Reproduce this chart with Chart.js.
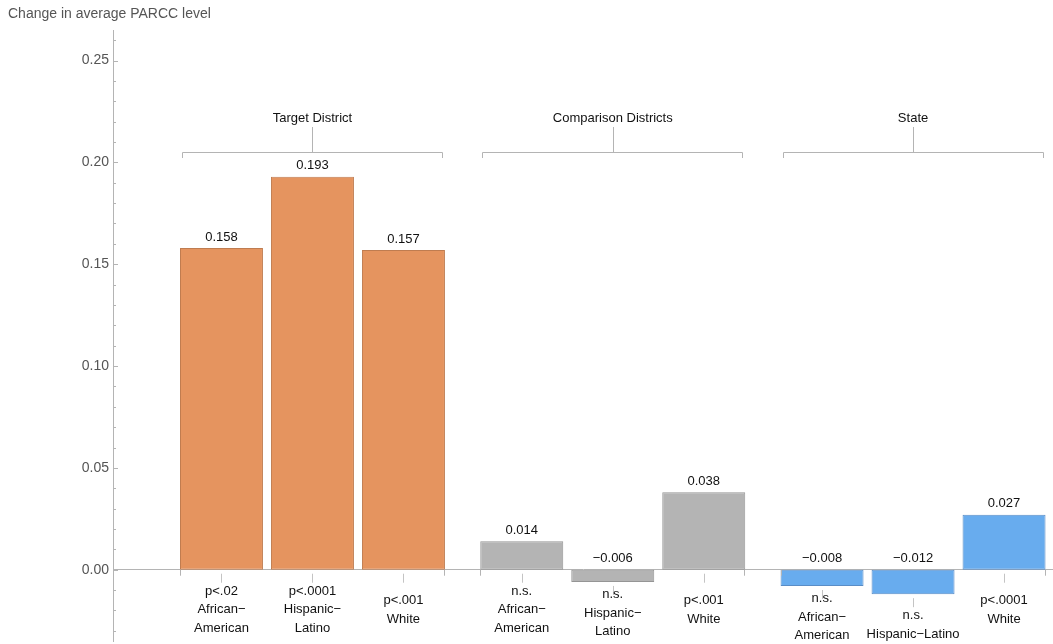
<!DOCTYPE html>
<html><head><meta charset="utf-8">
<script src="https://cdn.jsdelivr.net/npm/chart.js@4"></script>
<style>html,body{margin:0;padding:0;background:#fff;}</style>
</head><body>
<canvas id="c" width="1053" height="644"></canvas>
<script>
// ---- data ----
const groupNames = ['Target District', 'Comparison Districts', 'State'];
const targetValues = [0.158, 0.193, 0.157];
const comparisonValues = [0.014, -0.006, 0.038];
const stateValues = [-0.008, -0.012, 0.027];
const valueLabels = ['0.158', '0.193', '0.157', '0.014', '\u22120.006', '0.038', '\u22120.008', '\u22120.012', '0.027'];
const barLabels = [
  ['p<.02', 'African\u2212', 'American'], ['p<.0001', 'Hispanic\u2212', 'Latino'], ['p<.001', 'White'],
  ['n.s.', 'African\u2212', 'American'], ['n.s.', 'Hispanic\u2212', 'Latino'], ['p<.001', 'White'],
  ['n.s.', 'African\u2212', 'American'], ['n.s.', 'Hispanic\u2212Latino'], ['p<.0001', 'White']
];
const yTicks = [0, 0.05, 0.10, 0.15, 0.20, 0.25];
const yTickLabels = ['0.00', '0.05', '0.10', '0.15', '0.20', '0.25'];
const yTitle = 'Change in average PARCC level';

// ---- styles ----
const groupFill = ['#E5945F', '#B4B4B4', '#68ACEE'];
const groupStroke = ['#BF7C50', '#959595', '#5A8DC6'];
const GROUP_STRIDE = 3.3;
const FONT = 'Liberation Sans, Arial, Helvetica, sans-serif';
const AXIS = '#b4b4b4';
const TEXT = '#111';

const groups = [targetValues, comparisonValues, stateValues];
const points = [];
const fills = [], strokes = [];
groups.forEach((vals, g) => vals.forEach((v, i) => {
  points.push({x: g * GROUP_STRIDE + i, y: v});
  fills.push(groupFill[g]); strokes.push(groupStroke[g]);
}));

const deco = {
  id: 'deco',
  afterDraw(chart) {
    const ctx = chart.ctx;
    const ys = chart.scales.y;
    const ca = chart.chartArea;
    const zero = ys.getPixelForValue(0);
    const els = chart.getDatasetMeta(0).data;
    ctx.save();
    // y title
    ctx.fillStyle = '#555';
    ctx.font = '14px ' + FONT;
    ctx.textAlign = 'left'; ctx.textBaseline = 'middle';
    ctx.fillText(yTitle, 8, 14);
    // y minor/major ticks
    ctx.strokeStyle = AXIS; ctx.lineWidth = 1;
    for (let k = -3; k <= 26; k++) {
      const py = Math.round(ys.getPixelForValue(k / 100)) + 0.5;
      const len = (k % 5 === 0) ? 5 : 3;
      ctx.beginPath(); ctx.moveTo(ca.left, py); ctx.lineTo(ca.left + len, py); ctx.stroke();
    }
    // bars labels
    els.forEach((el, i) => {
      const top = Math.min(el.y, el.base);
      const bottom = Math.max(el.y, el.base);
      ctx.fillStyle = TEXT;
      ctx.font = '13px ' + FONT;
      ctx.textAlign = 'center'; ctx.textBaseline = 'middle';
      ctx.fillText(valueLabels[i], el.x, Math.min(top, zero) - 11);
      // small tick
      const tx = Math.round(el.x) + 0.5;
      ctx.strokeStyle = '#c4c4c4';
      ctx.beginPath(); ctx.moveTo(tx, bottom + 4); ctx.lineTo(tx, bottom + 13); ctx.stroke();
      // category labels
      const lines = barLabels[i];
      const center = Math.max(zero + 40, bottom + 31);
      ctx.fillStyle = TEXT;
      lines.forEach((ln, j) => {
        ctx.fillText(ln, el.x, center + (j - (lines.length - 1) / 2) * 18.5);
      });
    });
    // group edge ticks + brackets + titles
    groupNames.forEach((name, g) => {
      const a = els[g * 3], b = els[g * 3 + 2];
      const left = a.x - a.width / 2, right = b.x + b.width / 2;
      const mid = Math.round((left + right) / 2) + 0.5;
      ctx.strokeStyle = AXIS;
      ctx.beginPath();
      ctx.moveTo(Math.round(left) + 0.5, zero); ctx.lineTo(Math.round(left) + 0.5, zero + 6);
      ctx.moveTo(Math.round(right) - 0.5, zero); ctx.lineTo(Math.round(right) - 0.5, zero + 6);
      ctx.stroke();
      const bl = Math.round(left + 2) + 0.5, br = Math.round(right - 2) - 0.5;
      ctx.beginPath();
      ctx.moveTo(bl, 158); ctx.lineTo(bl, 152.5); ctx.lineTo(br, 152.5); ctx.lineTo(br, 158);
      ctx.moveTo(mid, 152.5); ctx.lineTo(mid, 127);
      ctx.stroke();
      ctx.fillStyle = TEXT;
      ctx.font = '13px ' + FONT;
      ctx.textAlign = 'center'; ctx.textBaseline = 'middle';
      ctx.fillText(name, (left + right) / 2, 118.5);
    });
    ctx.restore();
  }
};

new Chart(document.getElementById('c'), {
  type: 'bar',
  data: {
    datasets: [{
      data: points,
      backgroundColor: fills,
      borderColor: strokes,
      borderWidth: 1,
      borderSkipped: false,
      barPercentage: 0.912,
      categoryPercentage: 1
    }]
  },
  options: {
    responsive: false,
    animation: false,
    layout: {padding: {top: 30, bottom: 3, left: 0, right: 0}},
    plugins: {legend: {display: false}, tooltip: {enabled: false}},
    scales: {
      x: {
        type: 'linear', min: -1.192, max: 9.138,
        offset: false,
        position: {y: 0},
        ticks: {display: false},
        grid: {display: false, drawTicks: false},
        border: {display: true, color: AXIS},
        afterFit: s => { s.height = 0; s.paddingLeft = 0; s.paddingRight = 0; }
      },
      y: {
        min: -0.035, max: 0.265,
        afterBuildTicks: s => { s.ticks = yTicks.map(v => ({value: v})); },
        ticks: {
          callback: (v, i) => yTickLabels[i],
          color: '#555', padding: 4,
          font: {family: FONT, size: 14}
        },
        grid: {display: false, drawTicks: false},
        border: {display: true, color: AXIS},
        afterFit: s => { s.width = 113; s.paddingTop = 0; s.paddingBottom = 0; }
      }
    }
  },
  plugins: [deco]
});
</script>
</body></html>
